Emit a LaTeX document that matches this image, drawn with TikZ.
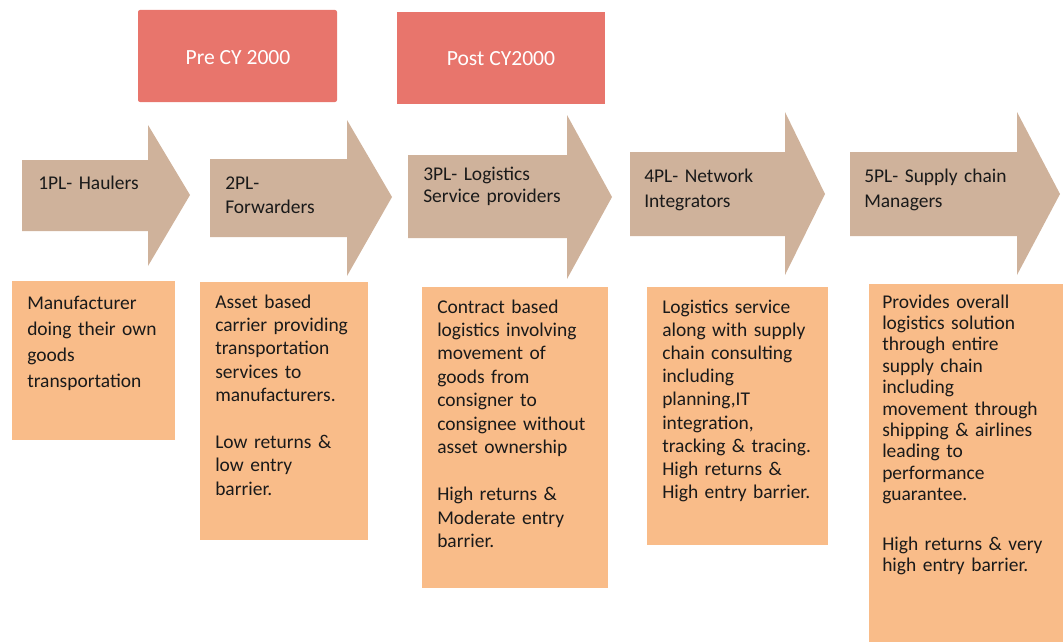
\documentclass[tikz,border=0pt]{standalone}
\usepackage{fontspec}
\setmainfont{Carlito}
\usepackage{xcolor}
\usepackage{tikz}
\usetikzlibrary{positioning}
\definecolor{tanc}{HTML}{CFB29B}
\definecolor{salmonc}{HTML}{E8756C}
\definecolor{peachc}{HTML}{F9BC89}
\definecolor{inkc}{HTML}{1A1A1A}
\tikzset{
  stage/.style={fill=tanc},
  era/.style={fill=salmonc,rounded corners=1.5pt},
  eratxt/.style={text=white,inner sep=0pt,font=\fontsize{16.2}{19}\selectfont},
  note/.style={fill=peachc},
  lbl/.style={anchor=base west,inner sep=0pt,text=inkc,align=left,text width=170pt,
    font=\fontsize{14.6}{#1}\selectfont},
  lbl/.default=17.6pt
}

\begin{document}
\begin{tikzpicture}[x=0.75pt,y=-0.75pt]
\useasboundingbox (0,0) rectangle (1063,642);
% period headers
\fill[era] (138,10) rectangle (337,102);
\fill[salmonc] (397,12) rectangle (605,104);
\node[eratxt] (pre) at (238,58) {Pre CY 2000};
\node[eratxt] (post) at (501,59) {Post CY2000};
% stage arrows
\fill[stage] (22,160)--(148,160)--(148,125)--(190,195)--(148,266)--(148,231)--(22,231)--cycle;
\fill[stage] (210,159)--(347,159)--(347,120)--(392,197)--(347,276)--(347,237)--(210,237)--cycle;
\fill[stage] (408,155)--(567,155)--(567,115)--(612,197)--(567,279)--(567,238)--(408,238)--cycle;
\fill[stage] (630,152)--(785,152)--(785,112)--(825,194)--(785,275)--(785,236)--(630,236)--cycle;
\fill[stage] (850,152)--(1017,152)--(1017,112)--(1060,194)--(1017,275)--(1017,236)--(850,236)--cycle;
\node[lbl] (pl1) at (38,189) {1PL- Haulers};
\node[lbl=18pt] (pl2) at (225,189) {2PL-\\Forwarders};
\node[lbl=16.5pt] (pl3) at (423,180) {3PL- Logistics\\Service providers};
\node[lbl=18.75pt] (pl4) at (644,182) {4PL- Network\\Integrators};
\node[lbl=18.75pt] (pl5) at (864,182) {5PL- Supply chain\\Managers};
% descriptions
\fill[note] (12,281) rectangle (175,440);
\fill[note] (200,282) rectangle (368,540);
\fill[note] (422,287) rectangle (608,588);
\fill[note] (647,287) rectangle (828,545);
\fill[note] (869,284) rectangle (1063,642);
\node[lbl=19.5pt] (d1) at (27,309) {Manufacturer\\doing their own\\goods\\transportation};
\node[lbl=17.55pt] (d2) at (215,308) {Asset based\\carrier providing\\transportation\\services to\\manufacturers.\\[17.55pt]Low returns \&\\low entry\\barrier.};
\node[lbl=17.6pt] (d3) at (437,313) {Contract based\\logistics involving\\movement of\\goods from\\consigner to\\consignee without\\asset ownership\\[17.6pt]High returns \&\\Moderate entry\\barrier.};
\node[lbl=17.4pt] (d4) at (662,313) {Logistics service\\along with supply\\chain consulting\\including\\planning,IT\\integration,\\tracking \& tracing.\\High returns \&\\High entry barrier.};
\node[lbl=16.05pt] (d5) at (882,308) {Provides overall\\logistics solution\\through entire\\supply chain\\including\\movement through\\shipping \& airlines\\leading to\\performance\\guarantee.\\[21pt]High returns \& very\\high entry barrier.};
\end{tikzpicture}
\end{document}
